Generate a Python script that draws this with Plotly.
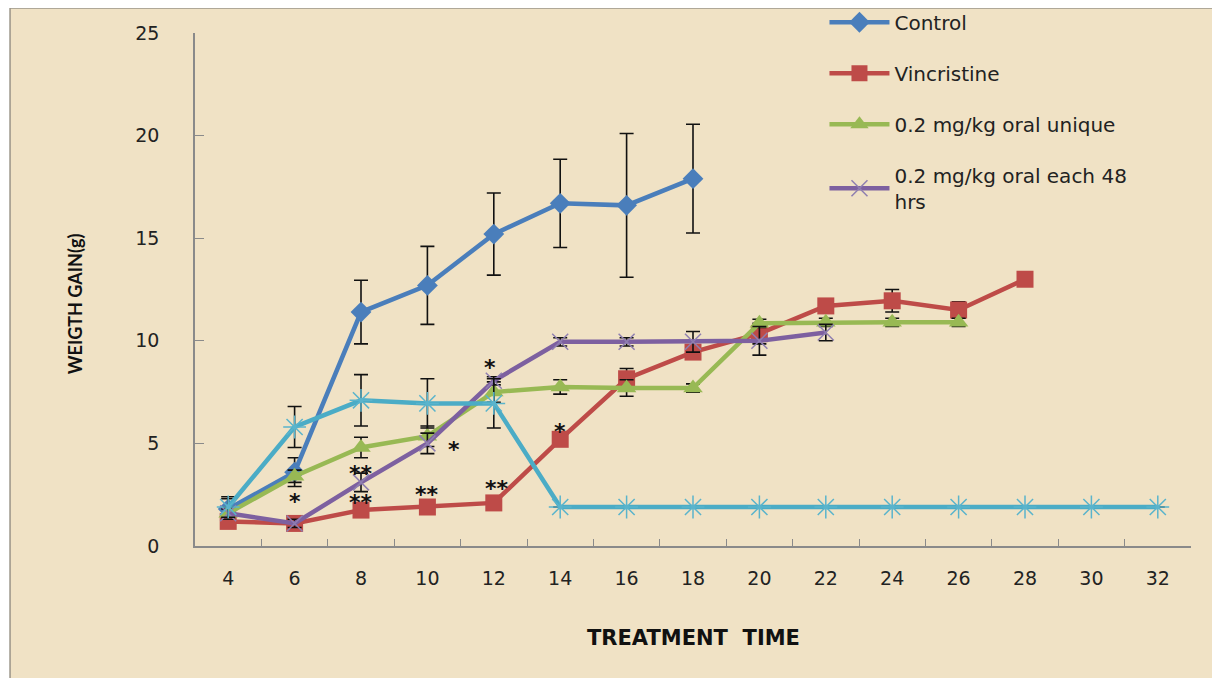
import plotly.graph_objects as go

days = ["4", "6", "8", "10", "12", "14", "16", "18", "20", "22", "24", "26", "28", "30", "32"]

control = [1.8, 3.6, 11.4, 12.7, 15.2, 16.7, 16.6, 17.9]
control_err = [0.5, 0.7, 1.55, 1.9, 2.0, 2.15, 3.5, 2.65]

vincristine = [1.2, 1.1, 1.75, 1.9, 2.1, 5.2, 8.15, 9.45, 10.35, 11.7, 11.95, 11.5, 13.0]
vincristine_err = [0.2, 0.2, 0.2, 0.3, 0.3, 0.3, 0.5, 0.3, 0.5, 0.2, 0.55, 0.4, 0.0]

oral_unique = [1.6, 3.4, 4.8, 5.35, 7.5, 7.75, 7.7, 7.7, 10.85, 10.9, 10.9, 10.9]
oral_unique_err = [0.2, 0.3, 0.5, 0.5, 0.5, 0.35, 0.4, 0.2, 0.2, 0.2, 0.2, 0.2]

oral_48h = [1.6, 1.1, 3.1, 5.0, 8.05, 9.95, 9.95, 9.95, 10.0, 10.4]
oral_48h_err = [0.3, 0.2, 0.45, 0.5, 0.2, 0.2, 0.2, 0.5, 0.7, 0.4]

cyan_series = [1.9, 5.8, 7.1, 6.95, 6.95, 1.9, 1.9, 1.9, 1.9, 1.9, 1.9, 1.9, 1.9, 1.9, 1.9]
cyan_err = [0.5, 1.0, 1.25, 1.2, 1.2, 0, 0, 0, 0, 0, 0, 0, 0, 0, 0]

# significance marks: (category index, y value, text)
star_x = [1, 2, 2, 3, 3.4, 4.05, 3.95, 5]
star_y = [2.4, 3.8, 2.35, 2.75, 4.95, 3.05, 8.95, 5.8]
star_text = ["*", "**", "**", "**", "*", "**", "*", "*"]

legend_names = ["Control", "Vincristine", "0.2 mg/kg oral unique", "0.2 mg/kg oral each 48<br>hrs"]

PARCH = "#f0e2c5"
FONT = "DejaVu Sans"

fig = go.Figure()

def err(vals):
    return dict(type="data", array=vals, visible=True, color="#111111", thickness=1.6, width=7)

fig.add_trace(go.Scatter(
    x=days[:len(control)], y=control, name=legend_names[0], legendgroup="a",
    mode="lines+markers", line=dict(color="#4a7ebb", width=4.5),
    marker=dict(symbol="diamond", size=16, color="#4a7ebb"),
    error_y=err(control_err)))
fig.add_trace(go.Scatter(
    x=days[:len(vincristine)], y=vincristine, name=legend_names[1], legendgroup="b",
    mode="lines+markers", line=dict(color="#be4b48", width=4.5),
    marker=dict(symbol="square", size=17, color="#be4b48"),
    error_y=err(vincristine_err)))
fig.add_trace(go.Scatter(
    x=days[:len(oral_unique)], y=oral_unique, name=legend_names[2], legendgroup="c",
    mode="lines+markers", line=dict(color="#98b954", width=4.5),
    marker=dict(symbol="triangle-up", size=17, color="#98b954"),
    error_y=err(oral_unique_err)))
fig.add_trace(go.Scatter(
    x=days[:len(oral_48h)], y=oral_48h, name=legend_names[3], legendgroup="d",
    mode="lines+markers", line=dict(color="#7d60a0", width=4.5),
    marker=dict(symbol="x-thin", size=16, color="#8f7fb0", line=dict(color="#8f7fb0", width=1.5)),
    error_y=err(oral_48h_err)))
fig.add_trace(go.Scatter(
    x=days, y=cyan_series, name="", showlegend=False,
    mode="lines+markers", line=dict(color="#4bacc6", width=4.5),
    marker=dict(symbol="asterisk-open", size=19, color="#5ab4cc", line=dict(color="#5ab4cc", width=1.5)),
    error_y=err(cyan_err)))

annotations = []
for sx, sy, st in zip(star_x, star_y, star_text):
    annotations.append(dict(x=sx, y=sy, xref="x", yref="y", text="<b>" + st + "</b>", showarrow=False,
                            font=dict(family=FONT, size=22, color="#111111"), yshift=-5))

annotations.append(dict(x=0.5, y=-0.18, xref="paper", yref="paper", text="<b>TREATMENT  TIME</b>",
                        showarrow=False, font=dict(family=FONT, size=21, color="#111111"),
                        xanchor="center", yanchor="middle"))
annotations.append(dict(x=-0.121, y=0.472, xref="paper", yref="paper", text="<b>WEIGTH GAIN(g)</b>",
                        showarrow=False, textangle=-90, font=dict(family="Lato", size=18, color="#111111"),
                        xanchor="center", yanchor="middle"))

shapes = [
    dict(type="rect", xref="paper", yref="paper", x0=-0.1857, x1=1.06, y0=-0.3, y1=1.0487,
         fillcolor=PARCH, line=dict(width=0), layer="below"),
    dict(type="line", xref="paper", yref="paper", x0=-0.1857, x1=1.06, y0=1.0487, y1=1.0487,
         line=dict(color="#9a9488", width=1.5), layer="below"),
    dict(type="line", xref="paper", yref="paper", x0=-0.1857, x1=-0.1857, y0=-0.3, y1=1.0487,
         line=dict(color="#9a9488", width=1.5), layer="below"),
]

fig.update_layout(
    width=1220, height=678,
    margin=dict(l=187, r=37, t=25, b=140, autoexpand=False),
    paper_bgcolor="white", plot_bgcolor="rgba(0,0,0,0)",
    font=dict(family=FONT, color="#222222"),
    showlegend=True,
    legend=dict(x=0.632, y=1.059, xanchor="left", yanchor="top", bgcolor="rgba(0,0,0,0)",
                font=dict(family=FONT, size=20, color="#222222"), tracegroupgap=22,
                traceorder="grouped", itemwidth=60),
    annotations=annotations,
    shapes=shapes,
    xaxis=dict(type="category", categoryorder="array", categoryarray=days, range=[-0.5, 14.5],
               showgrid=False, zeroline=False, showline=True, linecolor="#8a8a8a", linewidth=1.5,
               ticks="inside", tickson="boundaries", ticklen=7, tickcolor="#8a8a8a",
               tickfont=dict(family=FONT, size=19, color="#222222"), ticklabelstandoff=14),
    yaxis=dict(range=[0, 25], tickvals=[0, 5, 10, 15, 20, 25], showgrid=False, zeroline=False,
               showline=True, linecolor="#8a8a8a", linewidth=1.5, ticks="inside", ticklen=9,
               tickcolor="#8a8a8a", tickfont=dict(family=FONT, size=19, color="#222222"),
               ticklabelstandoff=30),
)

fig.write_html("out.html")
